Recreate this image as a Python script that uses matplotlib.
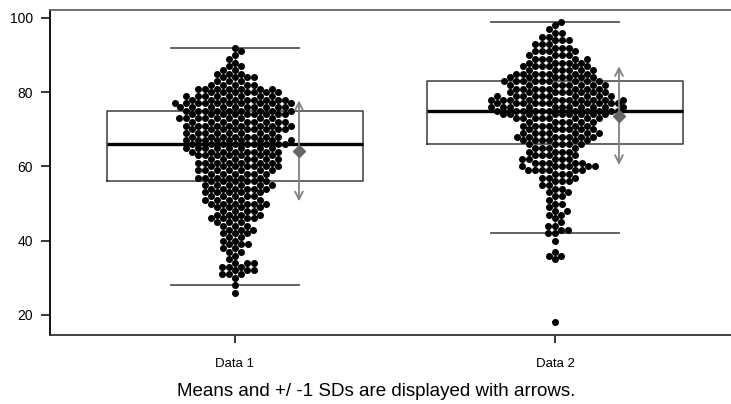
import numpy as np
import matplotlib.pyplot as plt

plt.rcParams['font.family'] = ['Liberation Sans', 'DejaVu Sans']

# --- DATA ---
GROUPS = ["Data 1", "Data 2"]

# distinct values and how many observations sit at each value
D1_VALUES = [92, 91, 90, 89, 88, 87, 86, 85, 84, 83, 82, 81, 80, 79, 78, 77, 76,
             75, 74, 73, 72, 71, 70, 69, 68, 67, 66, 65, 64, 63, 62, 61, 60, 59,
             58, 57, 56, 55, 54, 53, 52, 51, 50, 49, 48, 47, 46, 45, 44, 43, 42,
             41, 40, 39, 38, 37, 36, 35, 34, 33, 32, 31, 30, 28, 26]
D1_COUNTS = [1, 1, 1, 1, 1, 2, 2, 3, 4, 3, 5, 7, 7, 8, 9, 10, 10,
             9, 9, 9, 9, 9, 9, 8, 8, 9, 9, 8, 8, 7, 7, 7, 7, 7,
             6, 6, 6, 6, 6, 5, 5, 5, 6, 4, 4, 4, 5, 3, 3, 3, 3,
             2, 2, 3, 2, 2, 1, 1, 3, 3, 3, 3, 1, 1, 1]

D2_VALUES = [99, 98, 97, 96, 95, 94, 93, 92, 91, 90, 89, 88, 87, 86, 85, 84, 83,
             82, 81, 80, 79, 78, 77, 76, 75, 74, 73, 72, 71, 70, 69, 68, 67, 66,
             65, 64, 63, 62, 61, 60, 59, 58, 57, 56, 55, 54, 53, 52, 51, 50, 49,
             48, 47, 46, 45, 44, 43, 42, 40, 37, 36, 35, 18]
D2_COUNTS = [1, 1, 1, 2, 2, 3, 3, 3, 4, 4, 5, 5, 6, 6, 7, 7, 9,
             8, 8, 8, 10, 11, 11, 11, 11, 9, 8, 6, 6, 6, 7, 7, 6, 5,
             4, 4, 4, 5, 5, 6, 6, 3, 3, 3, 2, 2, 2, 2, 1, 2, 1,
             2, 2, 1, 1, 2, 2, 2, 1, 1, 2, 1, 1]

# box statistics: lower whisker, Q1, median, Q3, upper whisker
WHISLO = [28, 42]
Q1 = [56, 66]
MEDIAN = [66, 75]
Q3 = [75, 83]
WHISHI = [92, 99]

# mean and standard deviation (arrows)
MEANS = [64.2, 73.7]
SDS = [13.6, 13.3]

CAPTION = "Means and +/ -1 SDs are displayed with arrows."


def swarm_offsets(y_px, d):
    """Simple beeswarm: place points bottom-up as close to the centre as possible,
    alternating sides when both are equally close."""
    xs = np.zeros(len(y_px))
    placed = []
    side = 1
    for i in np.argsort(y_px, kind="stable"):
        y = y_px[i]
        near = [(px, py) for px, py in placed if abs(py - y) < d]

        def ok(c):
            return all((c - px) ** 2 + (y - py) ** 2 >= d * d - 1e-3 for px, py in near)

        cands = [0.0]
        for px, py in near:
            dx = np.sqrt(d * d - (py - y) ** 2)
            cands += [px + dx, px - dx]
        cands.sort(key=abs)
        chosen = None
        for c in cands:
            if ok(c):
                chosen = c
                break
        if chosen is None:
            chosen = max(cands, key=abs)
        if abs(chosen) > 1e-6 and ok(-chosen):
            chosen = side * abs(chosen)
            side = -side
        xs[i] = chosen
        placed.append((chosen, y))
    return xs


fig = plt.figure(figsize=(7.31, 4.04), dpi=100)
ax = fig.add_axes([50 / 731, 1 - 335 / 404, 681 / 731, 325 / 404])
ax.set_xlim(0.422, 2.55)
ax.set_ylim(14.6, 102.15)

positions = [1, 2]

# boxes
stats = []
for i in range(2):
    stats.append(dict(med=MEDIAN[i], q1=Q1[i], q3=Q3[i],
                      whislo=WHISLO[i], whishi=WHISHI[i], fliers=[]))
ax.bxp(stats, positions=positions, widths=0.8, showfliers=False,
       boxprops=dict(color="#3a3a3a", lw=1.1),
       whiskerprops=dict(color="#555555", lw=1.0),
       capprops=dict(color="#555555", lw=1.3),
       medianprops=dict(color="black", lw=2.4),
       manage_ticks=False, zorder=1)

# beeswarm points
fig.canvas.draw()
p0 = ax.transData.transform((0, 0))
p1 = ax.transData.transform((1, 1))
px_per_x = p1[0] - p0[0]
px_per_y = p1[1] - p0[1]
dot_px = 7.0

for pos, vals, cnts in [(1, D1_VALUES, D1_COUNTS), (2, D2_VALUES, D2_COUNTS)]:
    ys = np.repeat(vals, cnts).astype(float)
    offs = swarm_offsets(ys * px_per_y, dot_px)
    ax.plot(pos + offs / px_per_x, ys, "o", color="black", ms=dot_px * 0.72,
            mec="none", zorder=3, clip_on=False)

# mean +/- 1 SD arrows
for pos, m, sd in zip(positions, MEANS, SDS):
    x = pos + 0.2
    ax.annotate("", xy=(x, m + sd), xytext=(x, m - sd),
                arrowprops=dict(arrowstyle="<->", color="#808080", lw=1.3,
                                mutation_scale=14, shrinkA=0, shrinkB=0),
                zorder=4)
    ax.plot(x, m, "D", color="#666666", ms=6.5, mec="#666666", zorder=5)

# axes styling
ax.spines["right"].set_visible(False)
ax.spines["top"].set_color("#666666")
ax.spines["top"].set_linewidth(1.3)
ax.spines["left"].set_color("black")
ax.spines["left"].set_linewidth(1.3)
ax.spines["bottom"].set_color("#333333")
ax.spines["bottom"].set_linewidth(1.3)

ax.set_yticks([20, 40, 60, 80, 100])
ax.set_xticks(positions)
ax.set_xticklabels(GROUPS)
ax.tick_params(axis="y", length=6.5, width=1.1, labelsize=10, pad=6)
ax.tick_params(axis="x", length=5.5, width=1.1, labelsize=9.5, pad=11)

fig.text(376 / 731, 1 - 392 / 404, CAPTION, ha="center", va="center", fontsize=13.5)

fig.savefig("out.png", dpi=100)
